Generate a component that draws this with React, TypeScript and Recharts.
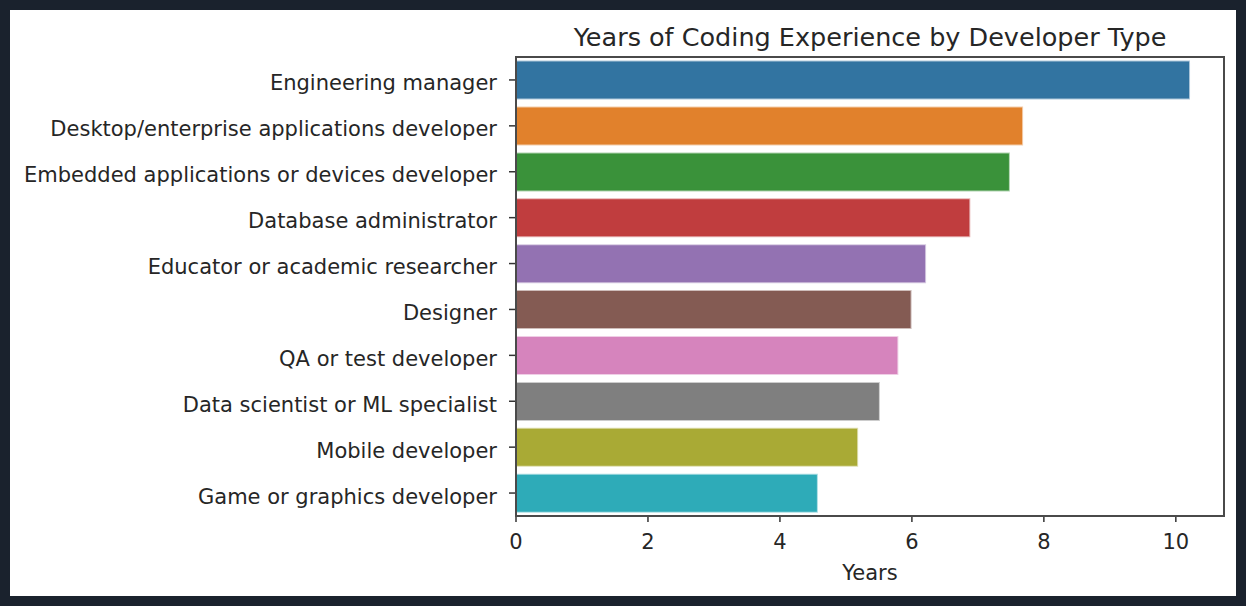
import React from "react";
import { BarChart, Bar, XAxis, YAxis, Cell } from "recharts";

const categories = [
  "Engineering manager",
  "Desktop/enterprise applications developer",
  "Embedded applications or devices developer",
  "Database administrator",
  "Educator or academic researcher",
  "Designer",
  "QA or test developer",
  "Data scientist or ML specialist",
  "Mobile developer",
  "Game or graphics developer",
];
const years = [10.2, 7.67, 7.47, 6.87, 6.2, 5.98, 5.78, 5.5, 5.17, 4.56];
const colors = [
  "#3274a1", "#e1812c", "#3a923a", "#c03d3e", "#9372b2",
  "#845b53", "#d684bd", "#7f7f7f", "#a9aa35", "#2eabb8",
];
const xTicks = [0, 2, 4, 6, 8, 10];

const data = categories.map((c, i) => ({ type: c, years: years[i] }));

const FONT = "'DejaVu Sans', sans-serif";

export default function App() {
  return (
    <div style={{ position: "absolute", left: 0, top: 0, width: 1246, height: 606, background: "#1a222d" }}>
      <div style={{ position: "absolute", left: 10, top: 10, width: 1226, height: 586, background: "#ffffff" }}>
        <div
          style={{
            position: "absolute", left: 506, top: 12, width: 708, textAlign: "center",
            fontFamily: FONT, fontSize: 25.5, color: "#262626", lineHeight: "30px",
          }}
        >
          Years of Coding Experience by Developer Type
        </div>
        <BarChart
          width={1226}
          height={586}
          data={data}
          layout="vertical"
          margin={{ top: 47, right: 12, bottom: 0, left: 0 }}
          barCategoryGap="10%"
        >
          <XAxis
            type="number"
            dataKey="years"
            domain={[0, 10.73]}
            ticks={xTicks}
            height={80}
            axisLine={false}
            tickLine={{ stroke: "#333333", strokeWidth: 1.5 }}
            tickSize={6}
            tickMargin={12}
            tick={{ fill: "#262626", fontSize: 21, fontFamily: FONT }}
            label={{ value: "Years", position: "insideBottom", offset: 16, fill: "#262626", fontSize: 21, fontFamily: FONT }}
          />
          <YAxis
            type="category"
            dataKey="type"
            width={506}
            axisLine={false}
            tickLine={{ stroke: "#333333", strokeWidth: 1.5 }}
            tickSize={7}
            tickMargin={12}
            interval={0}
            tick={{ fill: "#262626", fontSize: 21, fontFamily: FONT, dy: 3 }}
          />
          <Bar dataKey="years" isAnimationActive={false}>
            {data.map((d, i) => (
              <Cell key={d.type} fill={colors[i]} stroke={colors[i]} strokeOpacity={0.4} strokeWidth={2} />
            ))}
          </Bar>
        </BarChart>
        <div
          style={{
            position: "absolute", left: 505, top: 46, width: 710, height: 461,
            boxSizing: "border-box", border: "2px solid #4a4a4a", pointerEvents: "none",
          }}
        />
      </div>
    </div>
  );
}
